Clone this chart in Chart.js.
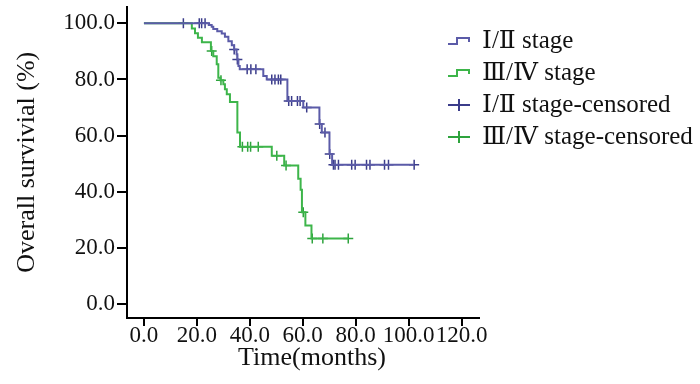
<!DOCTYPE html>
<html>
<head>
<meta charset="utf-8">
<script src="https://cdn.jsdelivr.net/npm/chart.js@4.4.1/dist/chart.umd.min.js"></script>
<style>
  html, body { margin: 0; background: #fff; }
</style>
</head>
<body>
<canvas id="km" width="700" height="384"></canvas>
<script>
// Kaplan-Meier curves (time in months, survival in %)
const xTicks = [0, 20, 40, 60, 80, 100, 120];
const yTicks = [0, 20, 40, 60, 80, 100];

const earlyT = [0, 24.5, 25.6, 26.2, 27.7, 29.4, 30.6, 31.9, 33.2, 34.1, 35.0, 35.3, 35.7, 36.2, 45.1, 46.4, 54.2, 60.2, 66.3, 67.2, 70.1, 71.1, 102.1];
const earlyS = [100, 99.4, 98.8, 98.0, 97.2, 96.4, 95.2, 93.6, 92.2, 90.7, 89.0, 87.1, 84.8, 83.6, 81.2, 80.0, 72.3, 70.0, 64.1, 61.1, 53.4, 49.6, 49.6];
const earlyCensT = [14.9, 20.9, 21.8, 23.1, 34.1, 35.3, 39.0, 40.4, 42.3, 48.3, 49.5, 50.8, 51.7, 54.7, 55.8, 58.0, 59.0, 61.5, 66.4, 68.4, 70.2, 71.6, 72.2, 73.5, 78.5, 79.8, 84.1, 85.4, 90.9, 92.4, 102.1];
const earlyCensS = [100, 100, 100, 100, 90.7, 87.1, 83.6, 83.6, 83.6, 80.0, 80.0, 80.0, 80.0, 72.3, 72.3, 72.3, 72.3, 70.0, 64.1, 61.1, 53.4, 49.6, 49.6, 49.6, 49.6, 49.6, 49.6, 49.6, 49.6, 49.6, 49.6];

const lateT = [0, 18.1, 19.3, 20.4, 21.9, 25.3, 26.2, 27.5, 28.1, 28.9, 30.0, 30.6, 31.3, 32.5, 35.3, 36.3, 48.3, 53.0, 58.3, 59.2, 59.7, 61.0, 63.3, 77.3];
const lateS = [100, 98.2, 96.5, 94.9, 93.3, 90.1, 88.3, 85.4, 80.6, 79.7, 78.3, 76.5, 74.7, 72.0, 61.1, 56.0, 52.8, 49.3, 44.6, 40.7, 32.7, 28.0, 23.3, 23.3];
const lateCensT = [25.6, 29.1, 37.2, 39.2, 40.3, 43.2, 50.2, 53.7, 60.2, 63.6, 67.6, 77.2];
const lateCensS = [90.1, 79.7, 56.0, 56.0, 56.0, 56.0, 52.8, 49.3, 32.7, 23.3, 23.3, 23.3];

const legendLabels = ["Ⅰ/Ⅱ stage", "Ⅲ/Ⅳ stage", "Ⅰ/Ⅱ stage-censored", "Ⅲ/Ⅳ stage-censored"];
const xTitle = "Time(months)";
const yTitle = "Overall survivial (%)";

const BLUE = "#5b5ba8";
const BLUE_DARK = "#3b3c8a";
const GREEN = "#3db54a";
const GREEN_DARK = "#2ea33d";
const SERIF = '"Liberation Serif", "Times New Roman", serif';
const LEGEND_FONT = '25px "Liberation Serif", "DejaVu Serif", serif';

const pts = (xs, ys) => xs.map((x, i) => ({ x: x, y: ys[i] }));

// legend + x title drawn by hand so they sit where the figure has them
const legendPlugin = {
  id: "kmLegend",
  afterDraw(chart) {
    const ctx = chart.ctx;
    const colors = [BLUE, GREEN, BLUE_DARK, GREEN_DARK];
    const rows = [41, 73, 105, 137];
    ctx.save();
    legendLabels.forEach((txt, i) => {
      const y = rows[i];
      ctx.strokeStyle = colors[i];
      ctx.lineWidth = 2;
      ctx.beginPath();
      if (i < 2) {
        ctx.moveTo(448, y + 3);
        ctx.lineTo(457, y + 3);
        ctx.lineTo(457, y - 3);
        ctx.lineTo(469, y - 3);
        ctx.lineTo(469, y + 1);
      } else {
        ctx.moveTo(448, y);
        ctx.lineTo(470, y);
        ctx.moveTo(459, y - 6);
        ctx.lineTo(459, y + 6);
      }
      ctx.stroke();
      ctx.fillStyle = "#111";
      ctx.font = LEGEND_FONT;
      ctx.textBaseline = "middle";
      ctx.textAlign = "left";
      ctx.fillText(txt, 482, y);
    });
    ctx.font = "26px " + SERIF;
    ctx.textAlign = "center";
    ctx.textBaseline = "middle";
    ctx.fillText(xTitle, 312, 358);
    ctx.restore();
  },
};

new Chart(document.getElementById("km"), {
  type: "line",
  data: {
    datasets: [
      {
        label: legendLabels[0],
        data: pts(earlyT, earlyS),
        borderColor: BLUE,
        borderWidth: 2,
        stepped: true,
        pointRadius: 0,
        fill: false,
      },
      {
        label: legendLabels[1],
        data: pts(lateT, lateS),
        borderColor: GREEN,
        borderWidth: 2,
        stepped: true,
        pointRadius: 0,
        fill: false,
      },
      {
        label: legendLabels[2],
        data: pts(earlyCensT, earlyCensS),
        showLine: false,
        pointStyle: "cross",
        pointRadius: 5,
        borderColor: BLUE_DARK,
        borderWidth: 1.5,
      },
      {
        label: legendLabels[3],
        data: pts(lateCensT, lateCensS),
        showLine: false,
        pointStyle: "cross",
        pointRadius: 5,
        borderColor: GREEN_DARK,
        borderWidth: 1.5,
      },
    ],
  },
  options: {
    responsive: false,
    animation: false,
    devicePixelRatio: 1,
    layout: { padding: { top: 5, right: 221, left: 0, bottom: 0 } },
    plugins: {
      legend: { display: false },
      tooltip: { enabled: false },
    },
    scales: {
      x: {
        type: "linear",
        min: -6.4,
        max: 126.6,
        afterBuildTicks: s => { s.ticks = xTicks.map(v => ({ value: v })); },
        afterFit: s => { s.height = 66; s.paddingLeft = 0; s.paddingRight = 0; },
        border: { display: true, color: "#000", width: 2 },
        grid: { drawOnChartArea: false, drawTicks: true, tickLength: 8, color: "#000", lineWidth: 2 },
        ticks: {
          color: "#111",
          padding: -4,
          maxRotation: 0,
          font: { family: SERIF, size: 23 },
          callback: v => v.toFixed(1),
        },
        title: { display: false },
      },
      y: {
        type: "linear",
        min: -5,
        max: 106,
        afterBuildTicks: s => { s.ticks = yTicks.map(v => ({ value: v })); },
        afterFit: s => { s.width = 127; s.paddingTop = 0; s.paddingBottom = 0; },
        border: { display: true, color: "#000", width: 2 },
        grid: { drawOnChartArea: false, drawTicks: true, tickLength: 10, color: "#000", lineWidth: 2 },
        ticks: {
          color: "#111",
          padding: 2,
          font: { family: SERIF, size: 23 },
          callback: v => v.toFixed(1),
        },
        title: {
          display: true,
          text: yTitle,
          color: "#111",
          font: { family: SERIF, size: 26 },
          padding: { top: 12, bottom: 0 },
        },
      },
    },
  },
  plugins: [legendPlugin],
});
</script>
</body>
</html>
